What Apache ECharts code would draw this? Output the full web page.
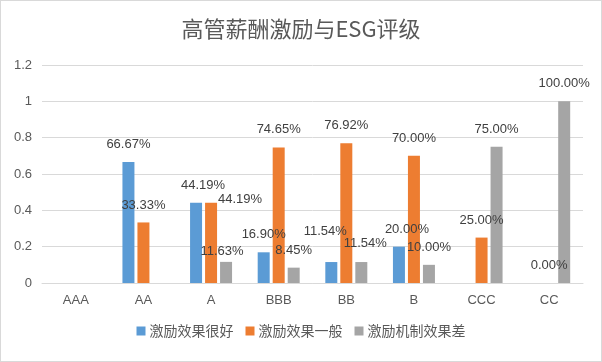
<!DOCTYPE html>
<html>
<head>
<meta charset="utf-8">
<script src="https://cdn.jsdelivr.net/npm/echarts@6/dist/echarts.min.js"></script>
<style>
html,body{margin:0;padding:0;background:#fff;}
#c{width:600px;height:360px;border:1px solid #d9d9d9;}
</style>
</head>
<body>
<div id="c"></div>
<script>
const categories = ['AAA','AA','A','BBB','BB','B','CCC','CC'];
const seriesNames = ['激励效果很好','激励效果一般','激励机制效果差'];
const good   = [null, 0.6667, 0.4419, 0.1690, 0.1154, 0.2000, null, null];
const normal = [null, 0.3333, 0.4419, 0.7465, 0.7692, 0.7000, 0.2500, 0.0000];
const poor   = [null, null,   0.1163, 0.0845, 0.1154, 0.1000, 0.7500, 1.0000];
const yTicks = [0, 0.2, 0.4, 0.6, 0.8, 1, 1.2];

// label nudges (style only) keyed by "seriesIndex-categoryIndex"
const labelNudge = {
  '0-2':[7,0], '1-2':[29,14], '2-2':[-4,7],
  '0-4':[-6,-13], '2-4':[4,-1],
  '0-5':[8,0]
};
const colors = ['#5b9bd5','#ed7d31','#a5a5a5'];
const font = '"Liberation Sans","Noto Sans CJK SC",sans-serif';
const cjk = '"Noto Sans CJK SC","Liberation Sans",sans-serif';

function build(arr, si){
  return arr.map((v,i)=>{
    if (v === null) return '-';
    const o = {value:v};
    const n = labelNudge[si+'-'+i];
    if (n) o.label = {offset:n};
    return o;
  });
}
const all=[good,normal,poor];
const chart = echarts.init(document.getElementById('c'));
chart.setOption({
  animation:false,
  color:colors,
  title:{text:'高管薪酬激励与ESG评级',left:'center',top:12,
    textStyle:{fontFamily:cjk,fontSize:22,fontWeight:'normal',color:'#595959'}},
  legend:{bottom:18,left:'center',itemWidth:9,itemHeight:9,itemGap:12,icon:'rect',
    data:seriesNames,
    textStyle:{fontFamily:cjk,fontSize:14,color:'#595959',padding:[0,0,0,-1]}},
  grid:{left:41,right:18,top:64,bottom:78},
  xAxis:{type:'category',data:categories,
    axisLine:{lineStyle:{color:'#d9d9d9'}},axisTick:{show:false},
    axisLabel:{fontFamily:font,fontSize:13,color:'#595959',margin:11}},
  yAxis:{type:'value',min:yTicks[0],max:yTicks[yTicks.length-1],interval:0.2,
    axisLine:{show:false},axisTick:{show:false},
    splitLine:{lineStyle:{color:'#d9d9d9'}},
    axisLabel:{fontFamily:font,fontSize:13,color:'#595959',margin:10}},
  series:all.map((arr,si)=>({
    name:seriesNames[si],type:'bar',barWidth:12,barGap:'25%',
    data:build(arr,si),
    label:{show:true,position:'top',distance:11,fontFamily:font,fontSize:13,color:'#404040',
      formatter:p=>(p.value*100).toFixed(2)+'%'}
  }))
});
</script>
</body>
</html>
